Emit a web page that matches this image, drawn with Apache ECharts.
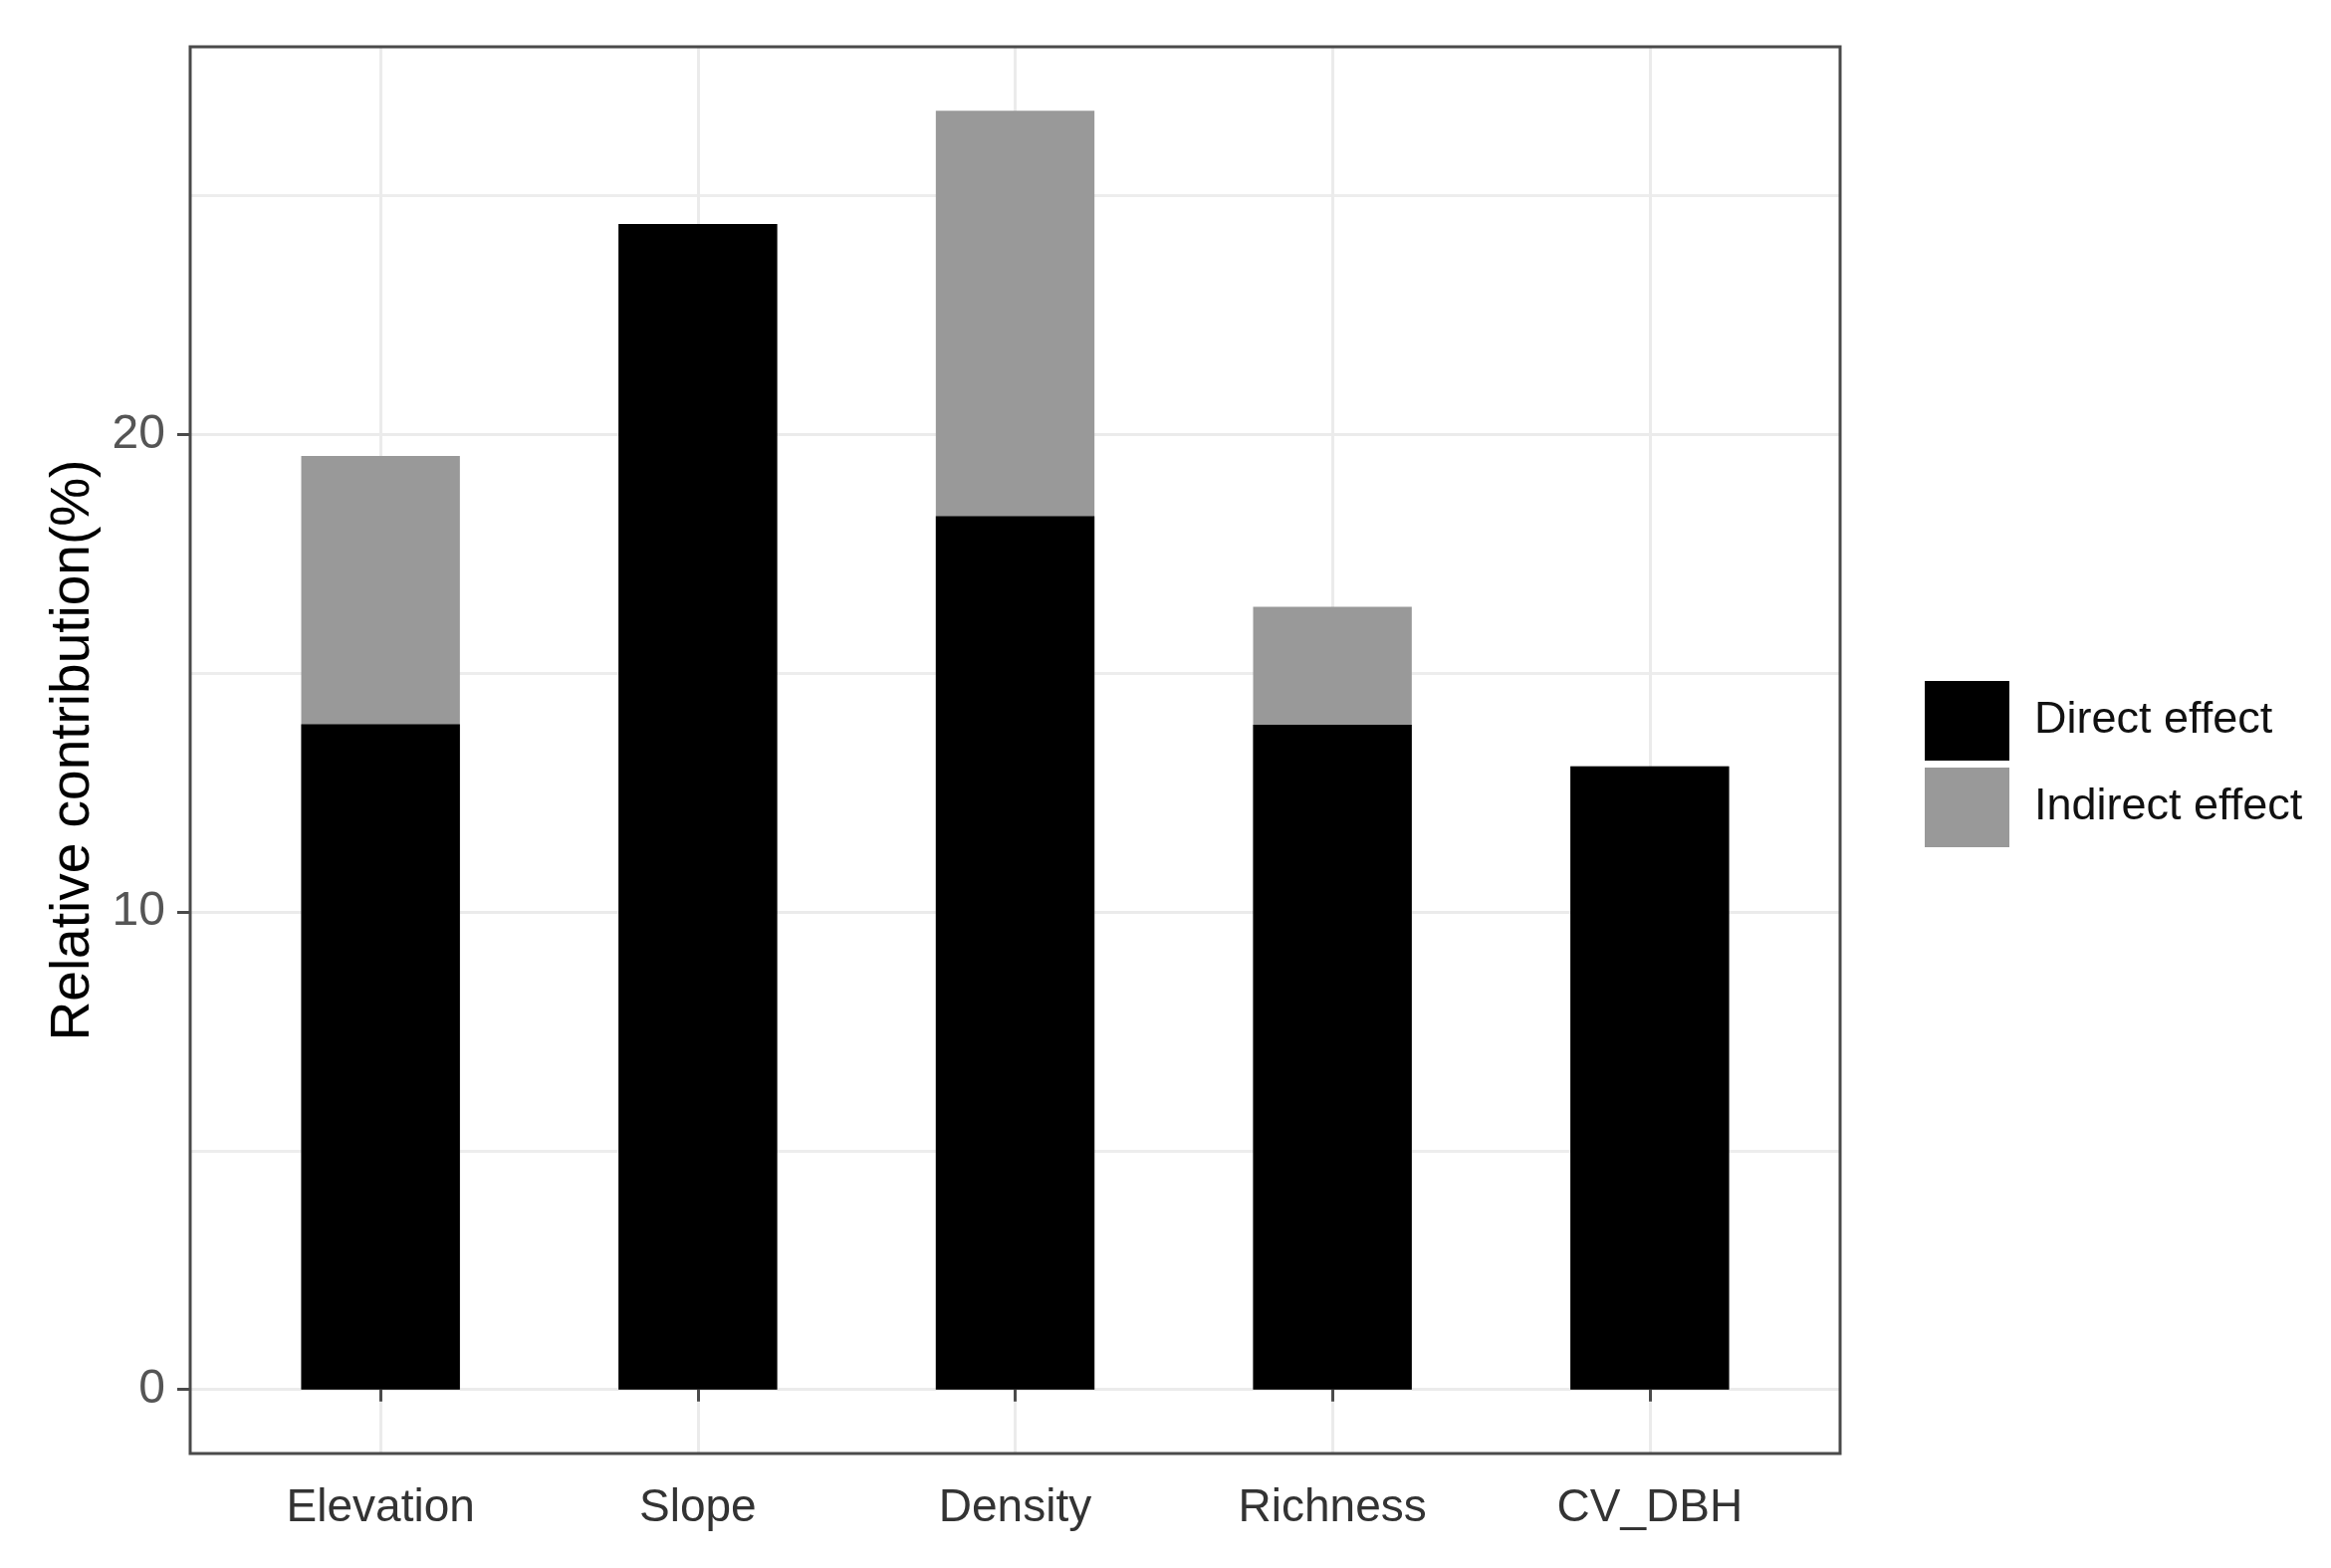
<!DOCTYPE html>
<html>
<head>
<meta charset="utf-8">
<script src="https://cdn.jsdelivr.net/npm/echarts@6/dist/echarts.min.js"></script>
<style>
html,body{margin:0;padding:0;background:#fff;}
#chart{width:2341px;height:1575px;}
</style>
</head>
<body>
<div id="chart"></div>
<script>
const categories = ['Elevation', 'Slope', 'Density', 'Richness', 'CV_DBH'];
const directEffect = [13.93, 24.41, 18.29, 13.92, 13.05];
const indirectEffect = [5.62, 0, 8.49, 2.47, 0];
const yTicks = [0, 10, 20];
const seriesNames = ['Direct effect', 'Indirect effect'];

const FONT = '"Liberation Sans", Arial, sans-serif';
const positions = categories.map((c, i) => i + 1);
// stacked top of each column = direct + indirect
const totals = directEffect.map((d, i) => d + indirectEffect[i]);

const chart = echarts.init(document.getElementById('chart'), null, {renderer: 'canvas'});
chart.setOption({
  animation: false,
  backgroundColor: '#ffffff',
  grid: {
    left: 191, top: 47, width: 1657, height: 1413,
    show: true, z: 10,
    backgroundColor: 'transparent',
    borderColor: '#4a4a4a', borderWidth: 3
  },
  legend: {
    orient: 'vertical',
    left: 1928, top: 679,
    itemWidth: 85, itemHeight: 80, itemGap: 7,
    icon: 'rect',
    data: seriesNames,
    textStyle: {fontFamily: FONT, fontSize: 45, color: '#111', padding: [16, 0, 0, 20]}
  },
  xAxis: {
    type: 'value',
    min: 0.4, max: 5.6,
    axisLine: {show: false},
    axisTick: {show: true, length: 12, lineStyle: {color: '#4a4a4a', width: 3}, customValues: positions},
    axisLabel: {
      customValues: positions,
      formatter: v => categories[Math.round(v) - 1] || '',
      fontFamily: FONT, fontSize: 46, color: '#333', margin: 32
    },
    splitLine: {show: true, lineStyle: {color: '#ebebeb', width: 3}}
  },
  yAxis: {
    type: 'value',
    min: -1.34, max: 28.12,
    splitNumber: 3,
    name: 'Relative contribution(%)',
    nameLocation: 'middle',
    nameGap: 84,
    nameTextStyle: {fontFamily: FONT, fontSize: 55, color: '#000'},
    axisLine: {show: false},
    axisTick: {show: true, length: 13, lineStyle: {color: '#4a4a4a', width: 3}, customValues: yTicks},
    axisLabel: {customValues: yTicks, fontFamily: FONT, fontSize: 48, color: '#555', margin: 25},
    splitLine: {show: true, lineStyle: {color: '#ebebeb', width: 3}},
    minorTick: {show: false, splitNumber: 2},
    minorSplitLine: {show: true, lineStyle: {color: '#ededed', width: 3}}
  },
  series: [
    {
      name: seriesNames[1], type: 'bar', barWidth: '50%', barGap: '-100%',
      itemStyle: {color: '#999999'},
      data: positions.map((p, i) => [p, totals[i]])
    },
    {
      name: seriesNames[0], type: 'bar', barWidth: '50%', barGap: '-100%',
      itemStyle: {color: '#000000'},
      data: positions.map((p, i) => [p, directEffect[i]])
    }
  ]
});
</script>
</body>
</html>
